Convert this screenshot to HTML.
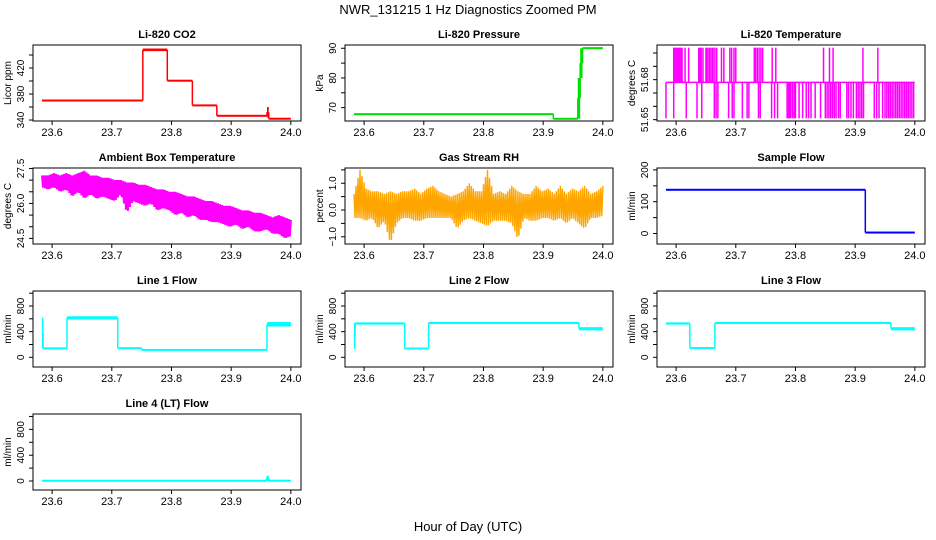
<!DOCTYPE html>
<html><head><meta charset="utf-8"><style>
html,body{margin:0;padding:0;background:#fff;}
svg{display:block;font-family:"Liberation Sans",sans-serif;}
</style></head><body>
<svg id="chart" width="936" height="540" viewBox="0 0 936 540">
<text x="468" y="14" font-size="13" text-anchor="middle">NWR_131215  1 Hz Diagnostics Zoomed PM</text>
<text x="468" y="531" font-size="13" text-anchor="middle">Hour of Day (UTC)</text>
</svg>
<script>
// ---- data ----
var xTicks = [23.6, 23.7, 23.8, 23.9, 24.0];
var xTickLabels = ["23.6", "23.7", "23.8", "23.9", "24.0"];
var tStart = 23.583, tEnd = 24.0;

// step segments: [start, end, low, high]
var co2Segs = [[23.583,23.752,369,371],[23.752,23.793,446,450],[23.793,23.835,399,402],[23.835,23.876,361,364],[23.876,23.960,345,348],[23.960,23.963,344,360],[23.963,24.0,341,343]];
var pressSegs = [[23.583,23.917,67.6,68.0],[23.917,23.958,66.1,66.4],[23.958,23.962,66.3,80],[23.962,23.966,80,90],[23.966,24.0,89.8,90.3]];
var sampleSegs = [[23.583,23.917,135,140],[23.917,24.0,1,5]];
var line1Segs = [[23.583,23.585,140,620],[23.585,23.625,135,145],[23.625,23.710,590,640],[23.710,23.750,135,150],[23.750,23.960,110,120],[23.960,24.0,480,550]];
var line2Segs = [[23.583,23.585,130,540],[23.585,23.668,510,545],[23.668,23.708,130,145],[23.708,23.960,520,550],[23.960,24.0,420,470]];
var line3Segs = [[23.583,23.623,510,545],[23.623,23.665,135,155],[23.665,23.960,520,550],[23.960,24.0,420,470]];
var line4Segs = [[23.583,23.959,0,8],[23.959,23.963,0,80],[23.963,24.0,0,10]];

// noisy envelopes (evenly spaced in time from tStart to tEnd)
var ambientHi = [27.2,27.2,27.3,27.2,27.3,27.2,27.3,27.4,27.2,27.2,27.1,27.1,27.0,27.0,26.9,26.9,26.8,26.8,26.7,26.6,26.6,26.5,26.5,26.4,26.3,26.3,26.2,26.1,26.1,26.0,25.9,25.9,25.8,25.7,25.7,25.6,25.6,25.5,25.4,25.5,25.4,25.3];
var ambientLo = [26.7,26.6,26.7,26.5,26.6,26.3,26.5,26.2,26.4,26.2,26.3,26.2,26.1,26.4,25.6,26.1,26.0,25.9,26.0,25.7,25.8,25.7,25.5,25.6,25.4,25.5,25.3,25.3,25.2,25.2,25.1,25.0,25.1,24.9,25.0,24.8,24.8,24.9,24.7,24.7,24.5,24.6];
var rhHi = [0.6,1.5,0.8,0.7,0.7,0.6,0.7,0.6,0.7,0.7,0.8,0.6,0.8,0.9,0.7,0.6,0.5,0.6,0.7,1.0,0.7,0.7,1.5,0.6,0.7,0.6,0.9,0.7,0.6,0.6,0.9,0.7,0.8,0.6,0.9,0.6,0.8,0.7,0.9,0.6,0.7,0.9];
var rhLo = [-0.3,-0.3,-0.4,-0.3,-0.7,-0.4,-1.25,-0.5,-0.3,-0.3,-0.4,-0.4,-0.3,-0.3,-0.3,-0.3,-0.3,-0.7,-0.4,-0.3,-0.4,-0.5,-0.6,-0.4,-0.4,-0.4,-0.5,-1.1,-0.3,-0.4,-0.4,-0.3,-0.3,-0.4,-0.3,-0.5,-0.3,-0.5,-0.7,-0.3,-0.3,-0.2];

// Li-820 temperature: base level with spikes
var tempMid = 51.678, tempHigh = 51.704, tempLow = 51.651;
var tempUpTimes = [23.596,23.598,23.600,23.602,23.604,23.606,23.608,23.610,23.615,23.621,23.638,23.640,23.642,23.645,23.650,23.652,23.655,23.657,23.660,23.662,23.665,23.668,23.676,23.680,23.690,23.693,23.697,23.700,23.731,23.733,23.736,23.739,23.742,23.745,23.761,23.767,23.847,23.857,23.863,23.913,23.938];
var tempDownTimes = [23.583,23.596,23.617,23.635,23.643,23.664,23.667,23.670,23.688,23.694,23.697,23.711,23.719,23.722,23.738,23.741,23.760,23.765,23.770,23.786,23.788,23.790,23.792,23.795,23.798,23.800,23.806,23.812,23.818,23.822,23.826,23.833,23.842,23.850,23.853,23.856,23.859,23.862,23.865,23.868,23.872,23.875,23.886,23.889,23.893,23.897,23.902,23.905,23.908,23.911,23.914,23.932,23.936,23.940,23.946,23.950,23.953,23.956,23.959,23.962,23.965,23.968,23.971,23.974,23.977,23.980,23.983,23.986,23.989,23.992,23.995,23.998];

// y ticks
var co2Ticks=[340,360,380,400,420,440], co2Labels=["340","","380","","420",""];
var pressTicks=[70,75,80,85,90], pressLabels=["70","","80","","90"];
var tempTicks=[51.65,51.66,51.67,51.68,51.69,51.70], tempLabels=["51.65","","","51.68","",""];
var ambTicks=[24.5,25.0,25.5,26.0,26.5,27.0,27.5], ambLabels=["24.5","","","26.0","","","27.5"];
var rhTicks=[-1,-0.5,0,0.5,1,1.5], rhLabels=["\u22121.0","","0.0","","1.0",""];
var sampTicks=[0,50,100,150,200], sampLabels=["0","","100","","200"];
var flowTicks=[0,200,400,600,800,1000], flowLabels=["0","","400","","800",""];

// ---- layout ----
var svg=document.getElementById('chart'), NS="http://www.w3.org/2000/svg";
var colL=[33,345,657], rowT=[45,168,291,414], W=268, H=76;
var xMin=23.568, xMax=24.017;
function mk(tag,attrs,parent){var e=document.createElementNS(NS,tag);for(var k in attrs)e.setAttribute(k,attrs[k]);(parent||svg).appendChild(e);return e;}

function panel(name,title,ytitle,col,row,yMin,yMax,yt,yl){
  var L=colL[col],T=rowT[row];
  var g=mk('g',{});
  
  
  var p={g:g,x:function(v){return L+(v-xMin)/(xMax-xMin)*W;},y:function(v){return T+H-(v-yMin)/(yMax-yMin)*H;}};
  var plot=mk('g',{},g);
  
  
  p.plot=plot;
  var box=mk('rect',{x:L,y:T,width:W,height:H,fill:'none',stroke:'#000','stroke-width':1},g);
  
  
  var t=mk('text',{x:L+W/2,y:T-7,'font-size':11,'font-weight':'bold','text-anchor':'middle'},g);t.textContent=title;
  
  
  var xa=mk('g',{},g);
  
  
  xTicks.forEach(function(v,i){var X=p.x(v);mk('line',{x1:X,x2:X,y1:T+H,y2:T+H+4,stroke:'#000'},xa);
    var tx=mk('text',{x:X,y:T+H+15,'font-size':11,'text-anchor':'middle'},xa);tx.textContent=xTickLabels[i];});
  var ya=mk('g',{},g);
  
  
  yt.forEach(function(v,i){var Y=p.y(v);mk('line',{x1:L-4,x2:L,y1:Y,y2:Y,stroke:'#000'},ya);
    if(yl[i]){var tx=mk('text',{x:0,y:0,'font-size':10,'text-anchor':'middle',transform:'translate('+(L-9)+','+Y+') rotate(-90)'},ya);tx.textContent=yl[i];}});
  var yti=mk('text',{x:0,y:0,'font-size':10,'text-anchor':'middle',transform:'translate('+(L-22)+','+(T+H/2)+') rotate(-90)'},g);yti.textContent=ytitle;
  
  
  return p;
}
function steps(p,segs,color){
  var prev=null;
  segs.forEach(function(s){
    var x1=p.x(s[0]),x2=p.x(s[1]),yH=p.y(s[3]),yL=p.y(s[2]);
    var h=Math.max(2,yL-yH),yc=(yL+yH)/2;
    var r=mk('rect',{x:x1,y:yc-h/2,width:Math.max(1.5,x2-x1),height:h,fill:color},p.plot);
    
    
    if(prev){mk('line',{x1:x1,x2:x1,y1:prev,y2:yc,stroke:color,'stroke-width':1.5},p.plot);}
    prev=yc;
  });
}
function noisy(p,hi,lo,color,w){
  var n=hi.length,pts=[],sub=6;
  for(var i=0;i<n-1;i++){for(var k=0;k<sub;k++){var f=k/sub,t=tStart+(i+f)*(tEnd-tStart)/(n-1);
    var v=(k%2==0)?hi[i]+(hi[i+1]-hi[i])*f:lo[i]+(lo[i+1]-lo[i])*f;pts.push(p.x(t).toFixed(1)+','+p.y(v).toFixed(1));}}
  pts.push(p.x(tEnd).toFixed(1)+','+p.y(hi[n-1]).toFixed(1));
  var pl=mk('polyline',{points:pts.join(' '),fill:'none',stroke:color,'stroke-width':w},p.plot);
  
  
}

var p1=panel('co2','Li-820 CO2','Licor ppm',0,0,338.5,455.4,co2Ticks,co2Labels); steps(p1,co2Segs,'#ff0000');
var p2=panel('pressure','Li-820 Pressure','kPa',1,0,65.5,91.1,pressTicks,pressLabels); steps(p2,pressSegs,'#00e000');
var p3=panel('li820-temp','Li-820 Temperature','degrees C',2,0,51.649,51.706,tempTicks,tempLabels);
(function(){var p=p3;
  mk('line',{x1:p.x(tStart),x2:p.x(tEnd),y1:p.y(tempMid),y2:p.y(tempMid),stroke:'#ff00ff','stroke-width':1.5},p.plot);
  tempUpTimes.forEach(function(t){var l=mk('line',{x1:p.x(t),x2:p.x(t),y1:p.y(tempMid),y2:p.y(tempHigh),stroke:'#ff00ff','stroke-width':1.5},p.plot);
    
    });
  tempDownTimes.forEach(function(t){var l=mk('line',{x1:p.x(t),x2:p.x(t),y1:p.y(tempMid),y2:p.y(tempLow),stroke:'#ff00ff','stroke-width':1.5},p.plot);
    
    });
})();
var p4=panel('ambient','Ambient Box Temperature','degrees C',0,1,24.26,27.52,ambTicks,ambLabels); noisy(p4,ambientHi,ambientLo,'#ff00ff',2);
var p5=panel('rh','Gas Stream RH','percent',1,1,-1.27,1.57,rhTicks,rhLabels); noisy(p5,rhHi,rhLo,'#ffa500',1.4);
var p6=panel('sample-flow','Sample Flow','ml/min',2,1,-33,206,sampTicks,sampLabels); steps(p6,sampleSegs,'#0000ff');
var p7=panel('line1','Line 1 Flow','ml/min',0,2,-151,1034,flowTicks,flowLabels); steps(p7,line1Segs,'#00ffff');
var p8=panel('line2','Line 2 Flow','ml/min',1,2,-151,1034,flowTicks,flowLabels); steps(p8,line2Segs,'#00ffff');
var p9=panel('line3','Line 3 Flow','ml/min',2,2,-151,1034,flowTicks,flowLabels); steps(p9,line3Segs,'#00ffff');
var p10=panel('line4','Line 4 (LT) Flow','ml/min',0,3,-139,1038,flowTicks,flowLabels); steps(p10,line4Segs,'#00ffff');
</script>
</body></html>
